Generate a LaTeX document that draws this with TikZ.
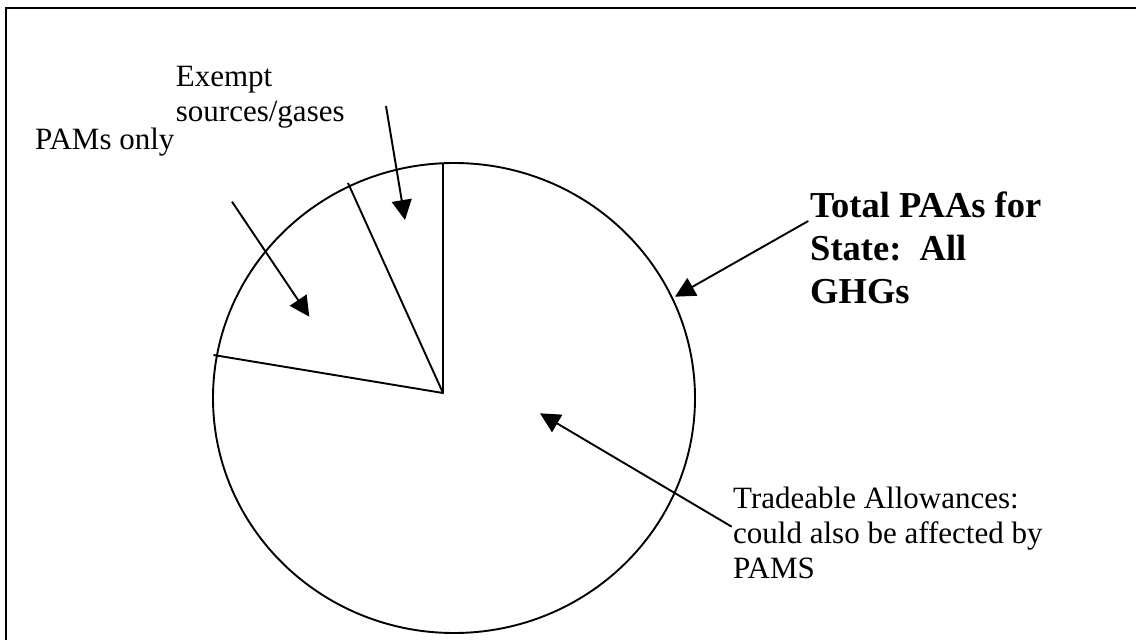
\documentclass[tikz,border=0pt]{standalone}
\usepackage{fontspec}
\setmainfont{Liberation Serif}
\usetikzlibrary{arrows.meta}
\tikzset{
  line/.style={line width=1.9pt, line join=round},
  callout/.style={line width=1.9pt, -{Triangle[length=20pt,width=20pt]}},
  lbl/.style={inner sep=0pt, align=left, anchor=base west, font=\fontsize{31}{35}\selectfont},
  big/.style={inner sep=0pt, align=left, anchor=base west, font=\fontsize{36.5}{43}\selectfont\bfseries},
}
\begin{document}
\begin{tikzpicture}[x=1pt,y=-1pt]
\useasboundingbox (0,0) rectangle (1136,640);
% frame (cut at right and bottom)
\draw[line width=2.2pt] (6.3,642) -- (6.3,7.7) -- (1138,7.7);
% pie
\coordinate (c) at (443,393);
\draw[line] (454,398) ellipse [x radius=241, y radius=235];
\coordinate (s1) at (443,163);
\coordinate (s2) at (348,183);
\coordinate (s3) at (213.5,355);
\draw[line] (s1) -- (c) -- (s2);
\draw[line] (c) -- (s3);
% labels (base anchor = last line baseline)
\node[lbl] (exempt) at (175.7,121.7) {Exempt\\sources/gases};
\node[lbl] (pams) at (35,149) {PAMs only};
\node[big] (total) at (810,303.5) {Total PAAs for\\State:\ \ All\\GHGs};
\node[lbl] (trade) at (733,578) {Tradeable Allowances:\\could also be affected by\\PAMS};
% arrow ends
\coordinate (e0) at (386,106);   \coordinate (e1) at (405,220);
\coordinate (p0) at (232,201.7); \coordinate (p1) at (309.3,316.7);
\coordinate (t0) at (808.3,221); \coordinate (t1) at (675,296.7);
\coordinate (r0) at (731.7,526.7); \coordinate (r1) at (540,413.3);
\draw[callout] (e0) -- (e1);
\draw[callout] (p0) -- (p1);
\draw[callout] (t0) -- (t1);
\draw[callout] (r0) -- (r1);
\end{tikzpicture}
\end{document}
